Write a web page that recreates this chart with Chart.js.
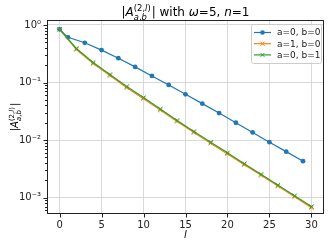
<!DOCTYPE html>
<html>
<head>
<meta charset="utf-8">
<script src="https://cdn.jsdelivr.net/npm/chart.js@4"></script>
<style>
  html, body { margin: 0; padding: 0; background: #fff; }
  canvas { display: block; }
</style>
</head>
<body>
<canvas id="c" width="329" height="244"></canvas>
<script>
// l values and amplitudes
const blueL = [0, 1, 3, 5, 7, 9, 11, 13, 15, 17, 19, 21, 23, 25, 27, 29];
const blueVals = [0.84, 0.61, 0.49, 0.366, 0.265, 0.187, 0.130, 0.0908, 0.0625, 0.043, 0.0295, 0.020, 0.0136, 0.0092, 0.0063, 0.0043];
const evenL = [0, 2, 4, 6, 8, 10, 12, 14, 16, 18, 20, 22, 24, 26, 28, 30];
const orangeVals = [0.84, 0.375, 0.214, 0.132, 0.0815, 0.0525, 0.0332, 0.0211, 0.0135, 0.0088, 0.00576, 0.00374, 0.00244, 0.00159, 0.00104, 0.00067];
const greenVals = [0.84, 0.39, 0.223, 0.138, 0.085, 0.0547, 0.0346, 0.022, 0.0141, 0.0092, 0.006, 0.0039, 0.00254, 0.00166, 0.00108, 0.0007];
const seriesNames = ['a=0, b=0', 'a=1, b=0', 'a=0, b=1'];
const seriesColors = ['#1f77b4', '#ff7f0e', '#2ca02c'];
const xTicks = [0, 5, 10, 15, 20, 25, 30];
const yDecades = [0, -1, -2, -3];
const yTickLabels = ['10\u2070', '10\u207B\u00B9', '10\u207B\u00B2', '10\u207B\u00B3'];

const FONT = '"DejaVu Sans", sans-serif';
const pts = (xs, ys) => xs.map((x, i) => ({ x, y: ys[i] }));

// draws a run of text pieces; a piece may be {sup, sub} stacked scripts
function drawRich(ctx, x, y, parts, size) {
  const small = size * 0.7;
  const fontOf = (p, s) => (p.it ? 'italic ' : '') + s + 'px ' + FONT;
  const widthOf = (list, s) => list.reduce((w, p) => { ctx.font = fontOf(p, s); return w + ctx.measureText(p.t).width; }, 0);
  let total = 0;
  parts.forEach((p) => {
    if (p.sup) total += Math.max(widthOf(p.sup, small), widthOf(p.sub, small)) + 1;
    else { ctx.font = fontOf(p, size); total += ctx.measureText(p.t).width; }
  });
  let cx = x - total / 2;
  const runList = (list, s, dy) => {
    let px = cx;
    list.forEach((p) => { ctx.font = fontOf(p, s); ctx.fillText(p.t, px, y + dy); px += ctx.measureText(p.t).width; });
  };
  parts.forEach((p) => {
    if (p.sup) {
      runList(p.sup, small, -size * 0.45);
      runList(p.sub, small, size * 0.3);
      cx += Math.max(widthOf(p.sup, small), widthOf(p.sub, small)) + 1;
    } else {
      ctx.font = fontOf(p, size);
      ctx.fillText(p.t, cx, y);
      cx += ctx.measureText(p.t).width;
    }
  });
}

const symbol = [
  { t: '|' }, { t: 'A', it: true },
  { sup: [{ t: '(2,' }, { t: 'l', it: true }, { t: ')' }], sub: [{ t: 'a', it: true }, { t: ',' }, { t: 'b', it: true }] },
  { t: '|' }
];

const decor = {
  id: 'decor',
  afterDraw(chart) {
    const { ctx, chartArea: a, scales } = chart;
    ctx.save();
    ctx.fillStyle = '#000';
    ctx.textBaseline = 'alphabetic';
    ctx.textAlign = 'left';
    // title
    drawRich(ctx, (a.left + a.right) / 2, 16, symbol.concat([
      { t: ' with ' }, { t: '\u03C9', it: true }, { t: '=5, ' }, { t: 'n', it: true }, { t: '=1' }
    ]), 12);
    // y label
    ctx.save();
    ctx.translate(18, (a.top + a.bottom) / 2);
    ctx.rotate(-Math.PI / 2);
    drawRich(ctx, 0, 0, symbol, 10);
    ctx.restore();
    // x label
    ctx.font = 'italic 10px ' + FONT;
    ctx.textAlign = 'center';
    ctx.fillText('l', (a.left + a.right) / 2, 238);

    // frame
    ctx.strokeStyle = '#222';
    ctx.lineWidth = 1;
    ctx.strokeRect(a.left + 0.5, a.top + 0.5, a.right - a.left - 1, a.bottom - a.top - 1);
    // tick marks
    ctx.beginPath();
    xTicks.forEach((v) => {
      const px = Math.round(scales.x.getPixelForValue(v)) + 0.5;
      ctx.moveTo(px, a.bottom); ctx.lineTo(px, a.bottom + 3.5);
    });
    yDecades.forEach((d) => {
      const py = Math.round(scales.y.getPixelForValue(Math.pow(10, d))) + 0.5;
      ctx.moveTo(a.left - 3.5, py); ctx.lineTo(a.left, py);
      for (let k = 2; k <= 9; k++) {
        const v = k * Math.pow(10, d - 1);
        if (v < scales.y.min) continue;
        const pm = Math.round(scales.y.getPixelForValue(v)) + 0.5;
        ctx.moveTo(a.left - 2, pm); ctx.lineTo(a.left, pm);
      }
    });
    ctx.stroke();

    // legend
    const lx = 251, ly = 24, lw = 70, lh = 39;
    ctx.fillStyle = 'rgba(255,255,255,0.85)';
    ctx.strokeStyle = '#cccccc';
    ctx.beginPath();
    ctx.roundRect(lx + 0.5, ly + 0.5, lw, lh, 2);
    ctx.fill(); ctx.stroke();
    ctx.font = '9px ' + FONT;
    ctx.textAlign = 'left';
    ctx.textBaseline = 'middle';
    seriesNames.forEach((name, i) => {
      const y = ly + 8.5 + i * 11.2;
      ctx.strokeStyle = seriesColors[i];
      ctx.lineWidth = 1.2;
      ctx.beginPath(); ctx.moveTo(lx + 3, y); ctx.lineTo(lx + 20, y); ctx.stroke();
      if (i === 0) {
        ctx.fillStyle = seriesColors[i];
        ctx.beginPath(); ctx.arc(lx + 11.5, y, 2.3, 0, Math.PI * 2); ctx.fill();
      } else {
        ctx.lineWidth = 1;
        ctx.beginPath();
        ctx.moveTo(lx + 9.5, y - 2); ctx.lineTo(lx + 13.5, y + 2);
        ctx.moveTo(lx + 9.5, y + 2); ctx.lineTo(lx + 13.5, y - 2);
        ctx.stroke();
      }
      ctx.fillStyle = '#222';
      ctx.fillText(name, lx + 26, y + 0.5);
    });
    ctx.restore();
  }
};

new Chart(document.getElementById('c'), {
  type: 'line',
  data: {
    datasets: [
      { label: seriesNames[0], data: pts(blueL, blueVals), borderColor: seriesColors[0], backgroundColor: seriesColors[0],
        borderWidth: 1.2, pointStyle: 'circle', pointRadius: 2.4, pointBorderWidth: 0, order: 2 },
      { label: seriesNames[1], data: pts(evenL, orangeVals), borderColor: seriesColors[1], backgroundColor: seriesColors[1],
        borderWidth: 1.2, pointStyle: 'crossRot', pointRadius: 3, pointBorderWidth: 1, order: 1 },
      { label: seriesNames[2], data: pts(evenL, greenVals), borderColor: seriesColors[2], backgroundColor: seriesColors[2],
        borderWidth: 1.2, pointStyle: 'crossRot', pointRadius: 3, pointBorderWidth: 1, order: 0 }
    ]
  },
  options: {
    responsive: false,
    animation: false,
    devicePixelRatio: 1,
    layout: { padding: { top: 20, right: 4, left: 0, bottom: 0 } },
    plugins: { legend: { display: false }, tooltip: { enabled: false } },
    scales: {
      x: {
        type: 'linear', min: -1.5, max: 31.5,
        afterBuildTicks: (s) => { s.ticks = xTicks.map((v) => ({ value: v })); },
        afterFit: (s) => { s.height = 30; },
        grid: { color: '#d9d9d9', drawTicks: false },
        border: { display: false },
        ticks: { padding: 5, color: '#222', font: { family: FONT, size: 10 }, maxRotation: 0 }
      },
      y: {
        type: 'logarithmic', min: 5.2e-4, max: 1.22,
        afterBuildTicks: (s) => { s.ticks = yDecades.map((d) => ({ value: Math.pow(10, d) })); },
        afterFit: (s) => { s.width = 47; },
        grid: { color: '#d9d9d9', drawTicks: false },
        border: { display: false },
        ticks: {
          padding: 6, color: '#222', font: { family: FONT, size: 10 },
          callback: (v) => yTickLabels[yDecades.indexOf(Math.round(Math.log10(v)))]
        }
      }
    }
  },
  plugins: [decor]
});
</script>
</body>
</html>
